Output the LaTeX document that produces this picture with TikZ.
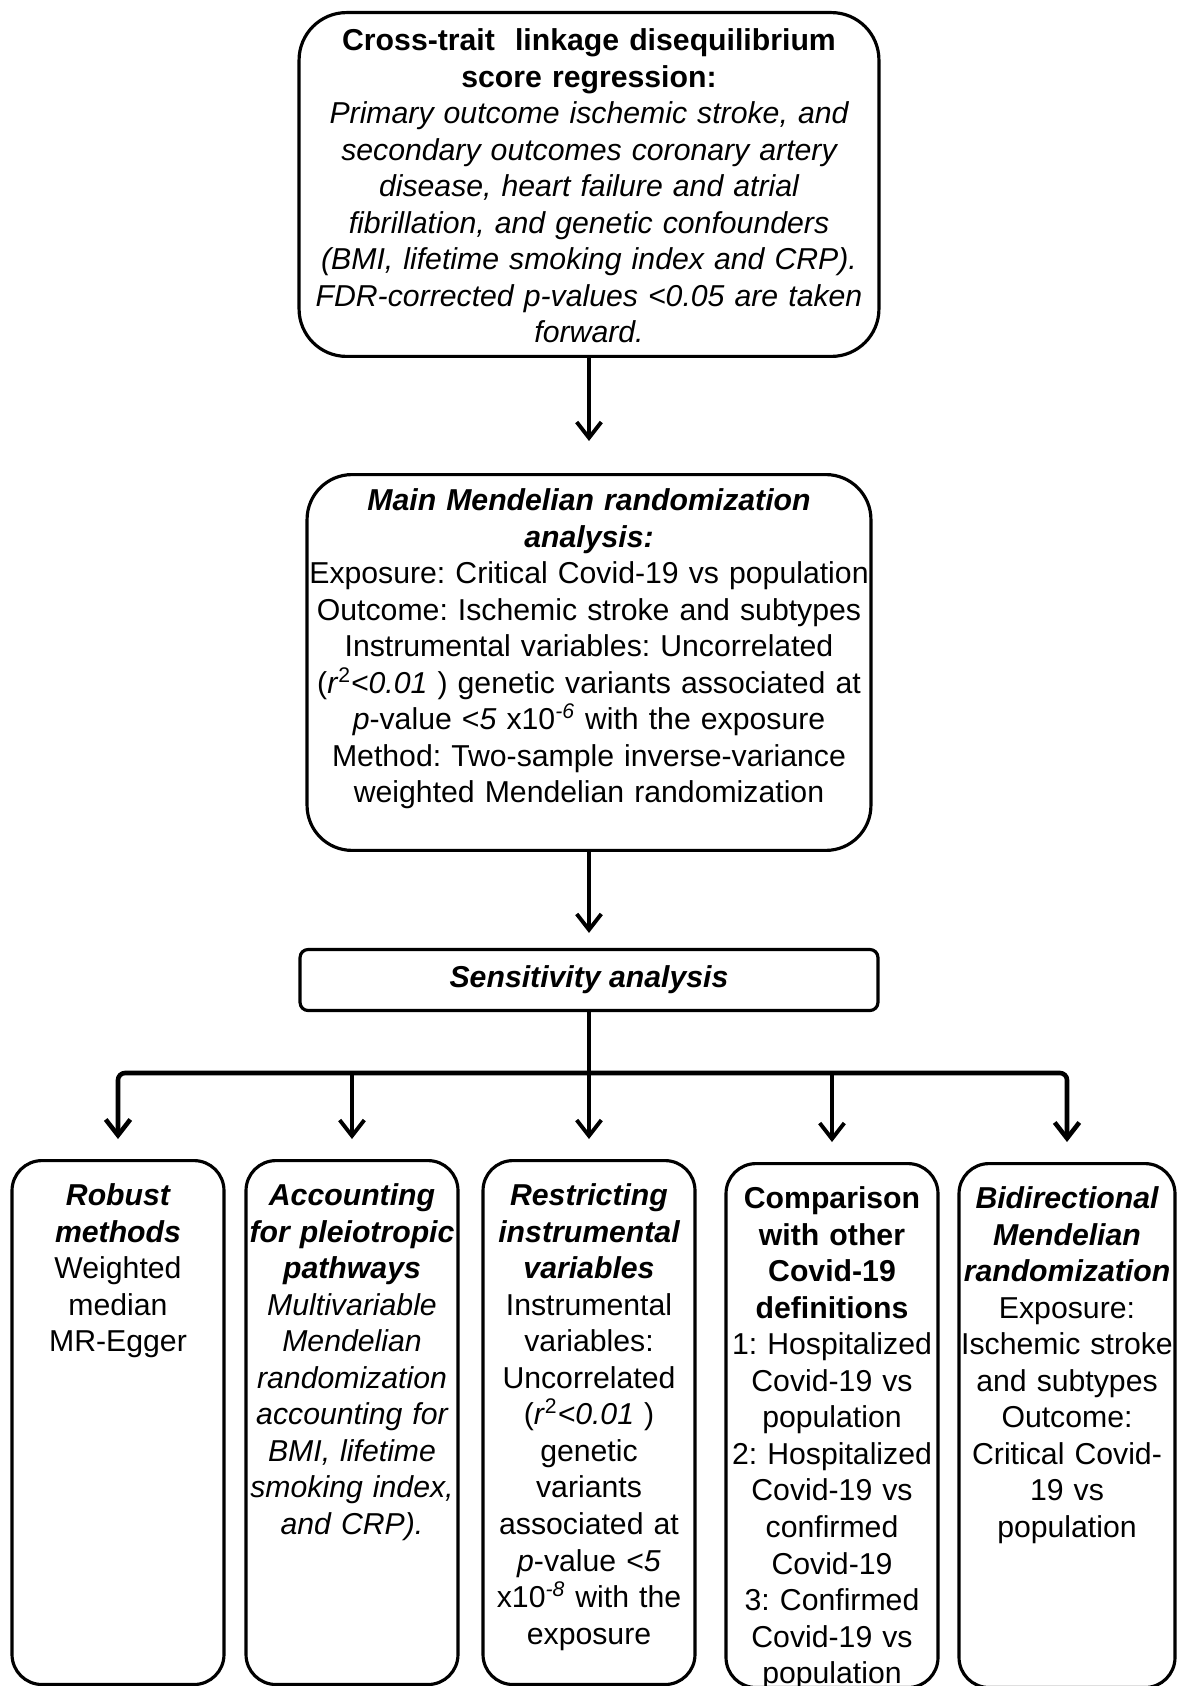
\documentclass[tikz,border=0pt]{standalone}
\usepackage{fontspec}
\setmainfont{Liberation Sans}
\frenchspacing
\usetikzlibrary{positioning,arrows.meta}
\tikzset{
  bx/.style={rectangle, draw=black, line width=1.8pt, align=center, anchor=north, inner xsep=-0.1cm, inner ysep=4pt, font=\fontsize{17.2}{20.8}\selectfont},
  tb/.style={bx, rounded corners=0.95cm, text width=11.8cm, text height=17.6pt, text depth=170.1pt},
  mb/.style={bx, rounded corners=0.9cm, text width=11.48cm, text height=16.5pt, text depth=189.4pt},
  sb/.style={bx, rounded corners=0.6cm, text width=4.44cm, text height=21.6pt, text depth=268.6pt},
  hb/.style={rectangle, draw=black, line width=1.8pt, rounded corners=0.16cm, minimum width=11.56cm, minimum height=1.22cm, font=\fontsize{17.2}{20.8}\selectfont\bfseries\itshape},
  ar/.style={-{Straight Barb[length=9pt,width=14pt]}, line width=2.2pt}
}

\begin{document}
\begin{tikzpicture}[x=0.02cm, y=-0.02cm]
\useasboundingbox (0,0) rectangle (1178,1686);
\node[tb] (ldsc) at (589,11) {\bfseries Cross-trait\ \ linkage disequilibrium\\ score regression:\\
  \mdseries\itshape Primary outcome ischemic stroke, and\\ secondary outcomes coronary artery\\
  disease, heart failure and atrial\\ fibrillation, and genetic confounders\\
  (BMI, lifetime smoking index and CRP).\\ FDR-corrected p-values <0.05 are taken\\ forward.};
\node[mb] (mr) at (589,473) {\bfseries\itshape Main Mendelian randomization\\ analysis:\\
  \mdseries\upshape Exposure: Critical Covid-19 vs population\\ Outcome: Ischemic stroke and subtypes\\
  Instrumental variables: Uncorrelated\\
  (\textit{r}\textsuperscript{2}\textit{<0.01} ) genetic variants associated at\\
  \textit{p}-value <\textit{5} x10\textsuperscript{\textit{-6}} with the exposure\\
  Method: Two-sample inverse-variance\\ weighted Mendelian randomization};
\node[hb] (sens) at (589,980) {Sensitivity analysis};
\path
(ldsc) edge[ar, shorten >=0.64cm] (mr)
(mr) edge[ar, shorten >=0.3cm] (sens);

% the five sensitivity analyses
\node[sb] (robust) at (118,1159) {\bfseries\itshape Robust\\ methods\\
  \mdseries\upshape Weighted\\ median\\ MR-Egger};
\node[sb] (pleio) at (352,1159) {\bfseries\itshape Accounting\\ for pleiotropic\\ pathways\\
  \mdseries Multivariable\\ Mendelian\\ randomization\\ accounting for\\ BMI, lifetime\\ smoking index,\\ and CRP).};
\node[sb] (restrict) at (589,1159) {\bfseries\itshape Restricting\\ instrumental\\ variables\\
  \mdseries\upshape Instrumental\\ variables:\\ Uncorrelated\\
  (\textit{r}\textsuperscript{2}\textit{<0.01} )\\ genetic\\ variants\\ associated at\\
  \textit{p}-value <\textit{5}\\ x10\textsuperscript{\textit{-8}} with the\\ exposure};
\node[sb] (compare) at (832,1162) {\bfseries Comparison\\ with other\\ Covid-19\\ definitions\\
  \mdseries 1: Hospitalized\\ Covid-19 vs\\ population\\ 2: Hospitalized\\ Covid-19 vs\\
  confirmed\\ Covid-19\\ 3: Confirmed\\ Covid-19 vs\\ population};
\node[sb, text width=4.52cm] (bidir) at (1067,1162) {\bfseries\itshape Bidirectional\\ Mendelian\\ randomization\\
  \mdseries\upshape Exposure:\\ Ischemic stroke\\ and subtypes\\ Outcome:\\ Critical Covid-\\ 19 vs\\ population};

\coordinate (bus) at (589,1073);
\draw[line width=2.2pt] (sens.south) -- (bus);
\draw[ar, line width=2.6pt, rounded corners=4pt, shorten >=0.4cm] (bus) -| (robust.north);
\draw[ar, line width=2.6pt, rounded corners=4pt, shorten >=0.4cm] (bus) -| (bidir.north);
\foreach \n in {pleio,restrict,compare}
  \draw[ar, shorten >=0.4cm] (\n.north |- bus) -- (\n.north);
\end{tikzpicture}
\end{document}
